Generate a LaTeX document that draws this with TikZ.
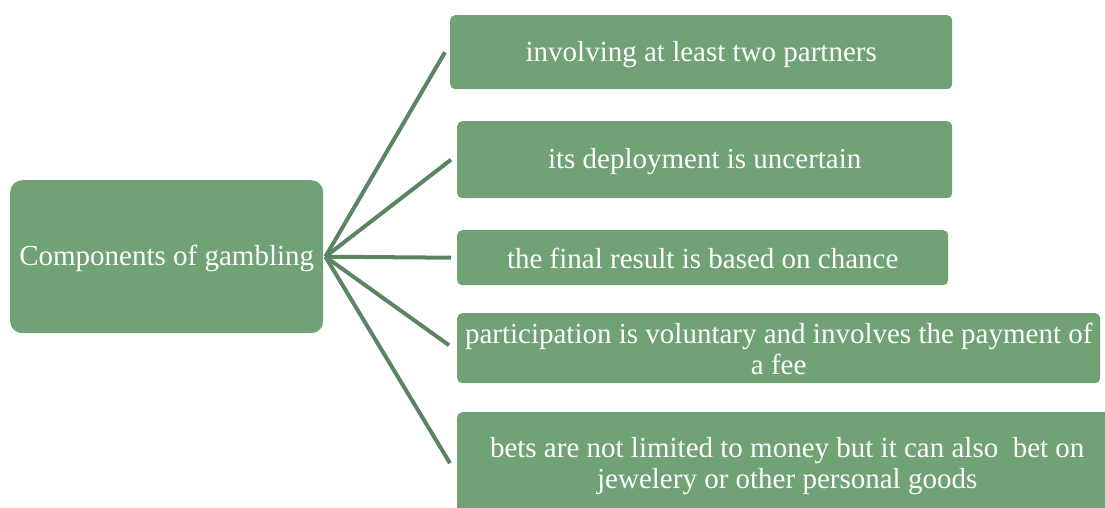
\documentclass[tikz,border=0pt]{standalone}
\usepackage{fontspec}
\setmainfont{Liberation Serif}
\definecolor{boxg}{HTML}{70A275}
\definecolor{lineg}{HTML}{5A8560}
\begin{document}
\begin{tikzpicture}[x=1pt,y=-1pt,
  box/.style={fill=boxg, rounded corners=5pt, inner sep=0pt, anchor=north west},
  txt/.style={text=white, font=\fontsize{29}{31}\selectfont, align=center, inner sep=0pt},
  conn/.style={draw=lineg, line width=4pt}]
\clip (0,0) rectangle (1105,508);
\node[box, rounded corners=12pt, minimum width=313pt, minimum height=153pt] (L) at (10,180) {};
\node[box, minimum width=502pt, minimum height=74pt] (b1) at (450,15) {};
\node[box, minimum width=495pt, minimum height=77pt] (b2) at (457,121) {};
\node[box, minimum width=491pt, minimum height=55pt] (b3) at (457,230) {};
\node[box, minimum width=643pt, minimum height=70pt] (b4) at (457,313) {};
\node[box, minimum width=660pt, minimum height=102pt] (b5) at (457,412) {};
\node[txt] (tL) at ([yshift=-2pt]L.center) {Components of gambling};
\node[txt] (t1) at ([yshift=-2pt]b1.center) {involving at least two partners};
\node[txt] (t2) at ([yshift=-2pt]b2.center) {its deployment is uncertain};
\node[txt] (t3) at ([yshift=-1pt]b3.center) {the final result is based on chance};
\node[txt] (t4) at ([yshift=-1pt]b4.center) {participation is voluntary and involves the payment of\\a fee};
\node[txt] (t5) at ([yshift=-3pt]b5.center) {bets are not limited to money but it can also~ bet on\\jewelery or other personal goods};
\coordinate (apex) at ([xshift=2pt]L.east);
\draw[conn] (apex) -- ([xshift=-5pt]b1.west);
\draw[conn] (apex) -- ([xshift=-6pt]b2.west);
\draw[conn] (apex) -- ([xshift=-6pt]b3.west);
\draw[conn] (apex) -- ([xshift=-8pt,yshift=3pt]b4.west);
\draw[conn] (apex) -- ([xshift=-7pt]b5.west);
\end{tikzpicture}
\end{document}
